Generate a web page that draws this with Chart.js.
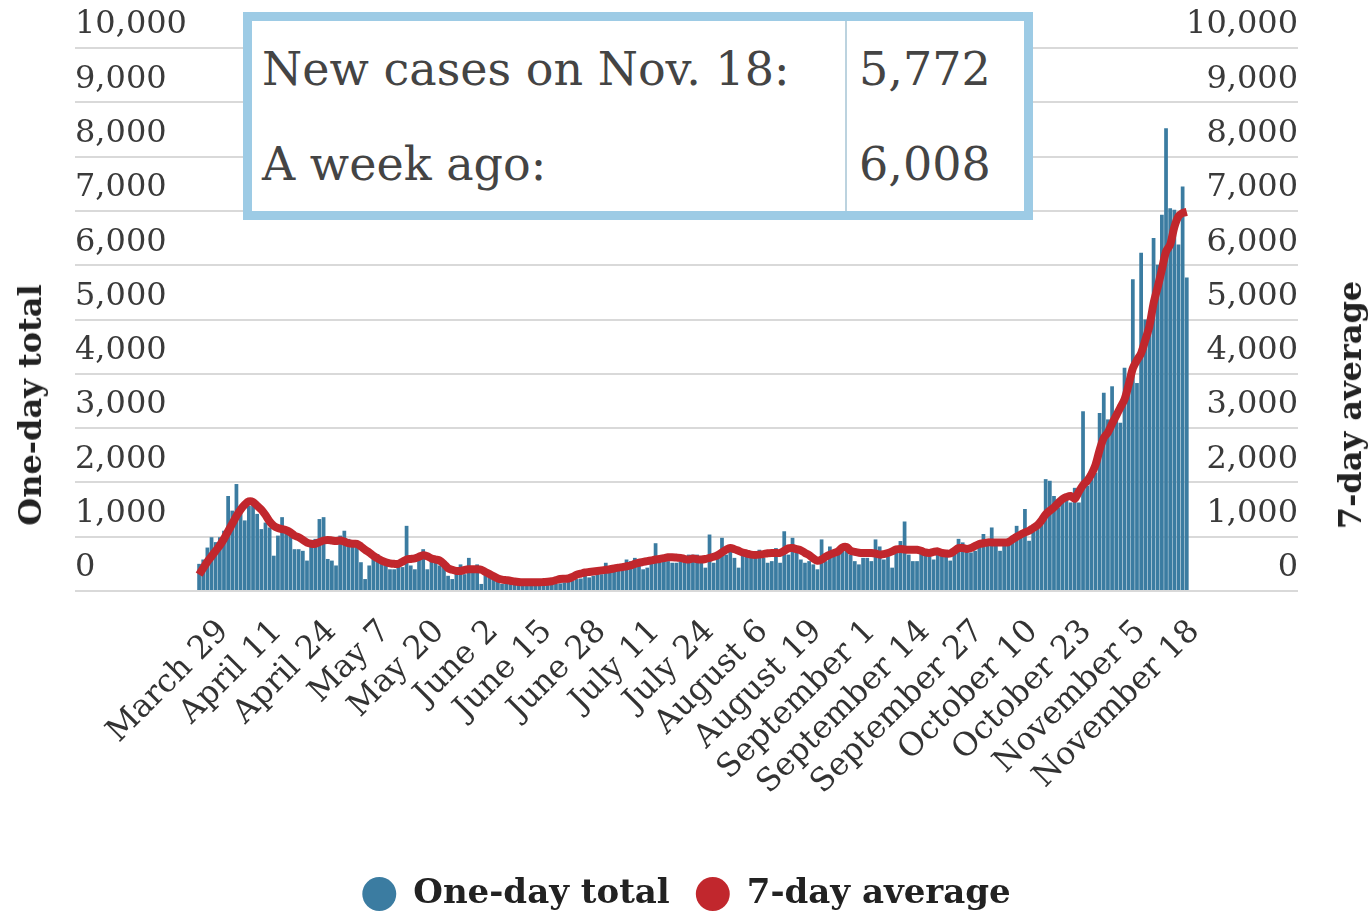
<!DOCTYPE html>
<html>
<head>
<meta charset="utf-8">
<title>New cases</title>
<script src="https://cdn.jsdelivr.net/npm/chart.js@4.4.0/dist/chart.umd.min.js"></script>
<style>
  html, body { margin: 0; padding: 0; background: #fff; }
  #wrap { position: relative; width: 1370px; height: 921px; }
  #chart { position: absolute; left: 0; top: 0; }
  .axis-title {
    position: absolute; font: bold 32px 'DejaVu Serif', serif; color: #222;
    white-space: nowrap; transform: translate(-50%, -50%) rotate(-90deg);
  }
  #callout {
    position: absolute; left: 243px; top: 12px; width: 790px; height: 208px;
    box-sizing: border-box; border: 9px solid #9dcbe5; background: #fff;
  }
  #callout table { border-collapse: collapse; width: 100%; height: 100%; font: 46px 'DejaVu Serif', serif; color: #444; }
  #callout td { padding: 0 0 0 10px; }
  #callout td.label { width: 583px; }
  #callout td.num { border-left: 2px solid #bcd3df; padding-left: 12px; }
</style>
</head>
<body>
<div id="wrap">
  <canvas id="chart" width="1370" height="921"></canvas>
  <div class="axis-title" style="left:30px; top:405px;">One-day total</div>
  <div class="axis-title" style="left:1350px; top:405px;">7-day average</div>
  <div id="callout">
    <table>
      <tr><td class="label">New cases on Nov. 18:</td><td class="num">5,772</td></tr>
      <tr><td class="label">A week ago:</td><td class="num">6,008</td></tr>
    </table>
  </div>
</div>
<script>
// daily series, March 25 (day 0) to November 18 (day 238)
const oneDayTotal = [
  500, 580, 800, 990, 900, 990, 1110, 1750, 1480, 1970,
  1450, 1300, 1570, 1660, 1420, 1140, 1260, 1170, 650, 1020,
  1360, 1080, 1050, 770, 770, 740, 560, 830, 960, 1325,
  1360, 590, 560, 470, 1020, 1110, 960, 930, 900, 530,
  220, 470, 590, 680, 530, 470, 400, 400, 470, 440,
  1200, 470, 400, 620, 770, 400, 620, 530, 470,
  460, 280, 220, 400, 490, 310, 610, 400, 490, 130, 370, 280, 220, 190, 130,
  170, 150, 160, 140, 150, 130, 160, 150, 170, 140, 160, 180,
  130, 140, 160, 180, 190, 220, 230,
  370, 250, 280, 310, 310, 520, 400, 430, 430, 430, 580, 550, 610, 490, 400, 430,
  520, 880, 550, 550, 550, 520, 520, 550, 600, 670,
  670, 670, 550, 430, 1040, 520, 640, 980, 670, 760,
  610, 430, 700, 700, 640, 640, 760, 610, 520, 550,
  790, 520, 1100, 670, 980, 700, 580, 520, 550, 490,
  400, 950, 550, 820, 640, 670, 760, 760, 670, 550,
  490, 610, 610, 550, 950, 820, 580, 640, 430, 700,
  920, 1280, 670, 550, 550, 700, 730, 640, 580, 670,
  740, 710, 560, 770, 960, 895, 800, 710, 740, 925,
  1050, 925, 1170, 865, 740, 830, 895, 1020, 1200, 1020,
  1510, 925, 1140, 1260, 1350, 2060, 2030, 1750, 1540, 1630,
  1690, 1630, 1900, 1630, 3310, 1940, 2060, 2180, 3280, 3650,
  3160, 3770, 3220, 3100, 4110, 3740, 5740, 3830, 6230, 5000,
  4750, 6500, 6008, 6930, 8520, 7050, 7020, 6380, 7450, 5772
];

const sevenDayAverage = [
  300, 420, 540, 640, 740, 840, 960, 1100, 1240, 1380,
  1500, 1590, 1650, 1640, 1570, 1500, 1400, 1280, 1200, 1160,
  1140, 1120, 1080, 1020, 990, 940, 890, 870, 870, 900,
  930, 940, 930, 920, 930, 910, 880, 870, 870, 820,
  760, 710, 650, 600, 560, 530, 510, 500, 500, 540,
  580, 590, 600, 630, 660, 640, 600, 580, 560,
  500, 420, 390, 370, 370, 390, 400, 400, 400, 390,
  350, 310, 270, 230, 210, 200, 190, 175, 165, 160,
  160, 160, 160, 160, 165, 170, 180, 200, 220, 225,
  230, 260, 300, 320, 340, 350, 360, 370, 380, 390,
  400, 415, 430, 440, 455, 470, 500, 520, 535, 550,
  565, 580, 590, 605, 620, 620, 615, 610, 590, 580,
  600, 585, 580, 590, 610, 630, 660, 710, 760, 790,
  770, 740, 710, 690, 670, 665, 670, 680, 695, 700,
  700, 700, 740, 785, 790, 770, 750, 700, 660, 600,
  555, 580, 630, 670, 700, 730, 800, 810, 740, 720,
  705, 700, 700, 700, 690, 670, 680, 700, 730, 765,
  775, 765, 760, 760, 760, 740, 710, 700, 720, 730,
  700, 690, 690, 740, 790, 790, 775, 790, 830, 865,
  880, 895, 895, 895, 895, 895, 900, 950, 1000, 1040,
  1080, 1110, 1160, 1210, 1300, 1410, 1480, 1540, 1620, 1690,
  1730, 1750, 1700, 1830, 1950, 2030, 2150, 2320, 2600, 2820,
  2920, 3080, 3230, 3380, 3530, 3800, 4100, 4250, 4380, 4620,
  4880, 5300, 5600, 5920, 6250, 6380, 6700, 6900, 6960, 6980
];

const tickDays = [4, 17, 30, 43, 56, 69, 82, 95, 108, 121, 134, 147, 160, 173, 186, 199, 212, 225, 238];
const tickLabels = [
  'March 29', 'April 11', 'April 24', 'May 7', 'May 20', 'June 2', 'June 15', 'June 28',
  'July 11', 'July 24', 'August 6', 'August 19', 'September 1', 'September 14',
  'September 27', 'October 10', 'October 23', 'November 5', 'November 18'
];
const yTicks = [0, 1000, 2000, 3000, 4000, 5000, 6000, 7000, 8000, 9000, 10000];

const serif = "'DejaVu Serif', serif";
const BLUE = '#3b7ca1';
const RED = '#c1272d';

const yScale = (position, showGrid) => ({
    type: 'linear',
    position,
    min: 0,
    max: 10000,
    afterBuildTicks: (s) => { s.ticks = yTicks.map(v => ({ value: v })); },
    grid: { display: showGrid, color: '#d9d9d9', lineWidth: 2, drawTicks: false },
    border: { display: false },
    ticks: {
        mirror: true,
        padding: 0,
        labelOffset: -23,
        crossAlign: 'near',
        color: '#3a3a3a',
        font: { family: serif, size: 32 },
        callback: v => v.toLocaleString('en-US')
    }
});

new Chart(document.getElementById('chart'), {
    data: {
        datasets: [
            {
                type: 'bar',
                label: 'One-day total',
                data: oneDayTotal.map((v, i) => ({ x: i, y: v })),
                backgroundColor: BLUE,
                borderWidth: 0,
                barPercentage: 0.9,
                categoryPercentage: 1,
                yAxisID: 'y',
                order: 1
            },
            {
                type: 'line',
                label: '7-day average',
                data: sevenDayAverage.map((v, i) => ({ x: i, y: v })),
                borderColor: RED,
                backgroundColor: RED,
                borderWidth: 8,
                pointRadius: 0,
                tension: 0.3,
                yAxisID: 'y1',
                order: 0
            }
        ]
    },
    options: {
        responsive: false,
        animation: false,
        devicePixelRatio: 1,
        layout: { padding: { top: 48, left: 75, right: 72, bottom: 0 } },
        plugins: {
            tooltip: { enabled: false },
            legend: {
                position: 'bottom',
                labels: {
                    usePointStyle: true,
                    boxWidth: 34,
                    boxHeight: 24,
                    padding: 26,
                    color: '#222',
                    font: { family: serif, size: 34, weight: 'bold' },
                    sort: (a, b) => a.datasetIndex - b.datasetIndex,
                    generateLabels(chart) {
                        const items = Chart.defaults.plugins.legend.labels.generateLabels(chart);
                        items.forEach(it => { it.lineWidth = 0; it.pointStyle = 'circle'; });
                        return items;
                    }
                }
            }
        },
        scales: {
            x: {
                type: 'linear',
                offset: false,
                min: -29.9,
                max: 264.8,
                afterBuildTicks: (s) => { s.ticks = tickDays.map(v => ({ value: v })); },
                afterFit: (s) => { s.height = 260; },
                grid: { display: false },
                border: { display: false },
                ticks: {
                    autoSkip: false,
                    minRotation: 45,
                    maxRotation: 45,
                    padding: 14,
                    labelOffset: 8,
                    color: '#333',
                    font: { family: serif, size: 32 },
                    callback: v => tickLabels[tickDays.indexOf(v)]
                }
            },
            y: yScale('left', true),
            y1: yScale('right', false)
        }
    }
});
</script>
</body>
</html>
